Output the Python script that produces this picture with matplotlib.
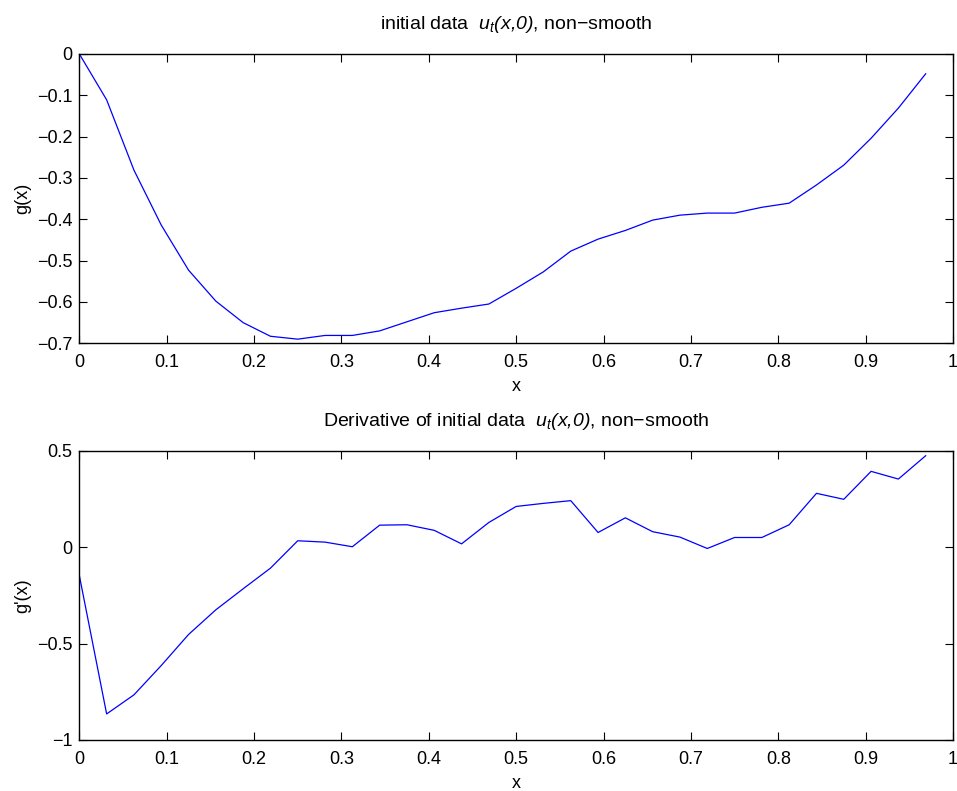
import numpy as np
import matplotlib
matplotlib.use("Agg")
import matplotlib.pyplot as plt

plt.rcParams['font.family'] = ['Liberation Sans', 'DejaVu Sans']
plt.rcParams['mathtext.fontset'] = 'custom'
plt.rcParams['mathtext.rm'] = 'Liberation Sans'
plt.rcParams['mathtext.it'] = 'Liberation Sans:italic'
# sf slot used for italic digits/brackets (it slot falls back to upright for those)
plt.rcParams['mathtext.sf'] = 'Liberation Sans:italic'
plt.rcParams['font.size'] = 13

# grid points x_j = j/32, j = 0..31
x = np.arange(32) / 32.0

g = [0.0, -0.111, -0.281, -0.414, -0.523, -0.598, -0.650, -0.683,
     -0.690, -0.681, -0.681, -0.670, -0.648, -0.626, -0.615, -0.605,
     -0.567, -0.527, -0.477, -0.448, -0.427, -0.402, -0.390, -0.385,
     -0.385, -0.371, -0.361, -0.317, -0.269, -0.204, -0.131, -0.048]

dg = [-0.147, -0.865, -0.766, -0.614, -0.453, -0.325, -0.216, -0.109,
      0.033, 0.026, 0.002, 0.114, 0.116, 0.087, 0.017, 0.128,
      0.211, 0.227, 0.241, 0.076, 0.152, 0.080, 0.052, -0.007,
      0.050, 0.050, 0.116, 0.279, 0.248, 0.393, 0.353, 0.474]

xticks = np.arange(0, 1.01, 0.1)
xticklabels = ['0', '0.1', '0.2', '0.3', '0.4', '0.5', '0.6', '0.7', '0.8', '0.9', '1']

fig = plt.figure(figsize=(9.57, 7.91), dpi=100)
ax1 = fig.add_axes([0.0829, 0.566, 0.9129, 0.3658])
ax2 = fig.add_axes([0.0829, 0.0645, 0.9129, 0.3657])

def style(ax):
    ax.tick_params(direction='in', top=True, right=True, length=6, width=0.8, pad=5)
    ax.tick_params(axis='x', pad=8)
    ax.set_xlim(0, 1)
    ax.set_xticks(xticks)
    ax.set_xticklabels(xticklabels)
    for s in ax.spines.values():
        s.set_linewidth(1.0)

title_ut = r'$u_t\mathsf{(x{,}0)}$'

ax1.plot(x, g, color='blue', lw=0.9)
style(ax1)
ax1.set_ylim(-0.7, 0)
ax1.set_yticks(np.arange(-0.7, 0.01, 0.1))
ax1.set_yticklabels(['\u22120.7', '\u22120.6', '\u22120.5', '\u22120.4', '\u22120.3', '\u22120.2', '\u22120.1', '0'])
ax1.set_xlabel('x', labelpad=5)
ax1.set_ylabel('g(x)', labelpad=4)
ax1.set_title('initial data  ' + title_ut + ', non\u2212smooth', fontsize=14, pad=18)

ax2.plot(x, dg, color='blue', lw=0.9)
style(ax2)
ax2.set_ylim(-1, 0.5)
ax2.set_yticks([-1, -0.5, 0, 0.5])
ax2.set_yticklabels(['\u22121', '\u22120.5', '0', '0.5'])
ax2.set_xlabel('x', labelpad=5)
ax2.set_ylabel("g'(x)", labelpad=4)
ax2.set_title('Derivative of initial data  ' + title_ut + ', non\u2212smooth', fontsize=14, pad=18)

fig.savefig('out.png', dpi=100)
